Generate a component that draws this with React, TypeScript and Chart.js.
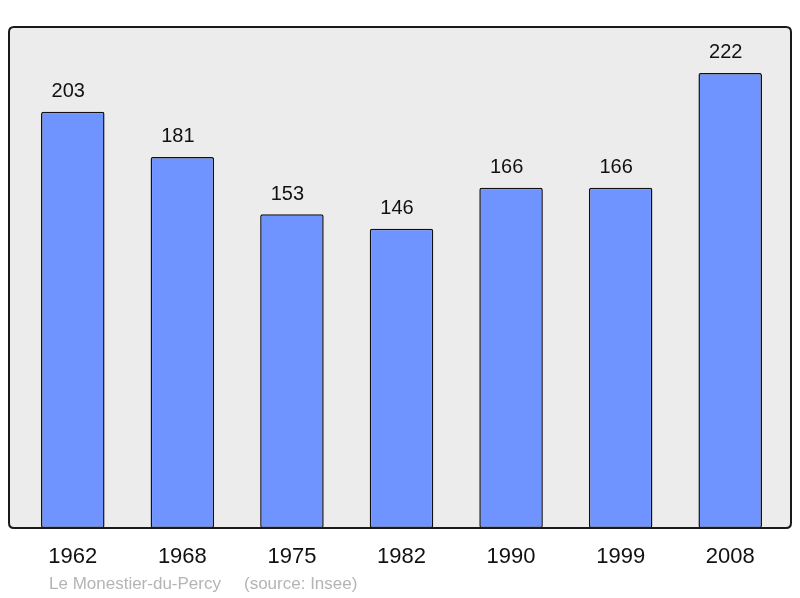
import React, { useEffect, useRef } from "react";
import { Chart, registerables } from "chart.js";

Chart.register(...registerables);

const categories = ["1962", "1968", "1975", "1982", "1990", "1999", "2008"];
const population = [203, 181, 153, 146, 166, 166, 222];
const footerPlace = "Le Monestier-du-Percy";
const footerSource = "(source: Insee)";

const FONT = "'Liberation Sans', Arial, sans-serif";

function roundRect(ctx: CanvasRenderingContext2D, x: number, y: number, w: number, h: number, r: number) {
  ctx.beginPath();
  ctx.moveTo(x + r, y);
  ctx.lineTo(x + w - r, y);
  ctx.quadraticCurveTo(x + w, y, x + w, y + r);
  ctx.lineTo(x + w, y + h - r);
  ctx.quadraticCurveTo(x + w, y + h, x + w - r, y + h);
  ctx.lineTo(x + r, y + h);
  ctx.quadraticCurveTo(x, y + h, x, y + h - r);
  ctx.lineTo(x, y + r);
  ctx.quadraticCurveTo(x, y, x + r, y);
  ctx.closePath();
}

const framePlugin = {
  id: "frame",
  beforeDatasetsDraw(chart: any) {
    const ctx = chart.ctx;
    const a = chart.chartArea;
    ctx.save();
    roundRect(ctx, 9, a.top, 782, a.bottom - a.top, 5);
    ctx.fillStyle = "#ececec";
    ctx.fill();
    ctx.restore();
  },
  afterDatasetsDraw(chart: any) {
    const ctx = chart.ctx;
    const a = chart.chartArea;
    ctx.save();
    roundRect(ctx, 9, a.top, 782, a.bottom - a.top, 5);
    ctx.strokeStyle = "#1a1a1a";
    ctx.lineWidth = 2;
    ctx.stroke();
    // value labels
    const meta = chart.getDatasetMeta(0);
    ctx.fillStyle = "#111";
    ctx.font = `20px ${FONT}`;
    ctx.textAlign = "center";
    ctx.textBaseline = "middle";
    meta.data.forEach((bar: any, i: number) => {
      ctx.fillText(String(chart.data.datasets[0].data[i]), bar.x - 4.5, bar.y - 20);
    });
    // footer
    ctx.fillStyle = "#b4b4b4";
    ctx.font = `17px ${FONT}`;
    ctx.textAlign = "left";
    ctx.fillText(footerPlace, 49, 584);
    ctx.fillText(footerSource, 244, 584);
    ctx.restore();
  },
};

export default function App() {
  const ref = useRef<HTMLCanvasElement>(null);
  useEffect(() => {
    if (!ref.current) return;
    const chart = new Chart(ref.current, {
      type: "bar",
      data: {
        labels: categories,
        datasets: [
          {
            data: population,
            backgroundColor: "#7094ff",
            borderColor: "#111",
            borderWidth: 1.5,
            borderRadius: 2,
            borderSkipped: false,
            barPercentage: 0.58,
            categoryPercentage: 1,
          },
        ],
      },
      options: {
        responsive: false,
        animation: false,
        layout: { padding: { left: 18, right: 15, top: 27, bottom: 0 } },
        plugins: { legend: { display: false }, tooltip: { enabled: false } },
        scales: {
          x: {
            grid: { display: false, drawTicks: false },
            border: { display: false },
            ticks: { color: "#111", font: { size: 22, family: FONT }, padding: 16, maxRotation: 0 },
            afterFit(scale: any) {
              scale.height = 70;
            },
          },
          y: {
            display: false,
            min: 0,
            max: 244.4,
          },
        },
      },
      plugins: [framePlugin],
    });
    return () => chart.destroy();
  }, []);
  return (
    <canvas
      ref={ref}
      width={800}
      height={598}
      style={{ position: "absolute", left: 0, top: 0, width: 800, height: 598 }}
    />
  );
}
